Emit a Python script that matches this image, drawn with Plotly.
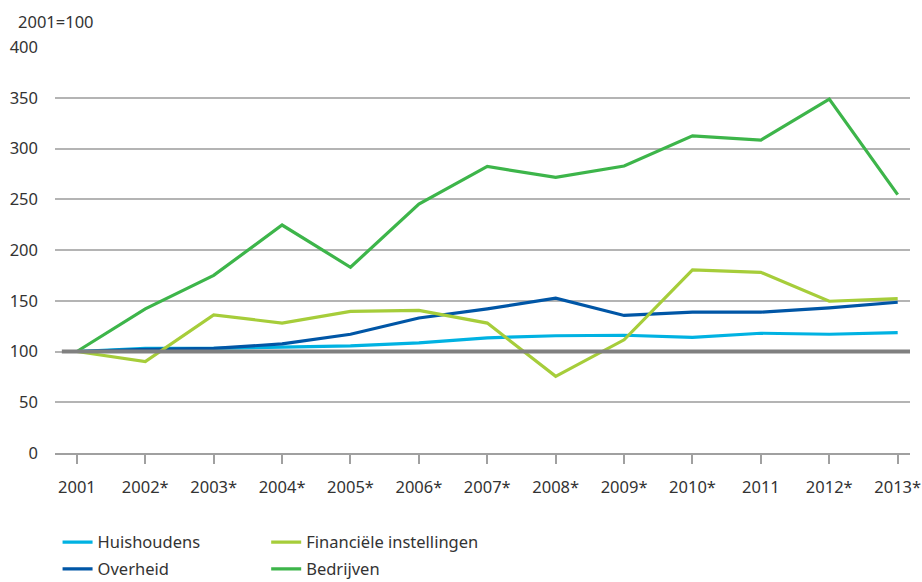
import plotly.graph_objects as go

years = ["2001", "2002*", "2003*", "2004*", "2005*", "2006*", "2007*", "2008*",
         "2009*", "2010*", "2011", "2012*", "2013*"]

huishoudens = [100, 103, 103, 104.3, 105.5, 108.5, 113.5, 115.5, 116, 114, 118, 117, 118.5]
overheid = [100, 102, 103, 107.5, 117, 133, 142, 152.5, 135.5, 138.7, 138.7, 143, 148.5]
financiele = [100, 90, 136, 128, 139.5, 140.5, 128, 75.5, 111.5, 180.5, 178, 149.5, 152]
bedrijven = [100, 142, 175, 224.6, 183, 245.3, 282.3, 271.5, 282.7, 312.5, 308.3, 348.6, 254.5]

y_ticks = [0, 50, 100, 150, 200, 250, 300, 350, 400]
baseline_value = 100
unit_label = "2001=100"

FONT = "Noto Sans"
TXT = "#333333"
FS = 16.5

fig = go.Figure()

series = [
    ("Huishoudens", huishoudens, "#00b2e2", "legend", 0.003, -0.22),
    ("Overheid", overheid, "#0056a6", "legend2", 0.003, -0.286),
    ("Financiële instellingen", financiele, "#a6cd3a", "legend3", 0.247, -0.22),
    ("Bedrijven", bedrijven, "#3db54a", "legend4", 0.247, -0.286),
]
legends = {}
for name, vals, col, lg, lx, ly in series:
    fig.add_trace(go.Scatter(
        x=years, y=vals, name=name, mode="lines",
        line=dict(color=col, width=3.2),
        legend=lg,
    ))
    legends[lg] = dict(x=lx, y=ly, xanchor="left", yanchor="middle",
                       orientation="v", font=dict(family=FONT, size=FS, color=TXT),
                       bgcolor="rgba(0,0,0,0)")

fig.add_shape(type="line", xref="paper", yref="y",
              x0=0.008, x1=1.0, y0=baseline_value, y1=baseline_value,
              line=dict(color="#808080", width=4), layer="above")

fig.add_annotation(text=unit_label, xref="paper", yref="paper",
                   x=-0.046, y=1.062, xanchor="left", yanchor="middle",
                   showarrow=False, font=dict(family=FONT, size=FS, color=TXT))

fig.update_layout(
    width=922, height=582,
    margin=dict(l=55, r=12, t=47, b=129, autoexpand=False),
    paper_bgcolor="white", plot_bgcolor="white",
    font=dict(family=FONT, size=FS, color=TXT),
    showlegend=True,
    xaxis=dict(
        type="category", range=[-0.32, 12.18], automargin=False,
        showgrid=False, showline=True, linecolor="#a0a0a0", linewidth=1.5,
        ticks="outside", ticklen=9, tickcolor="#a0a0a0", tickwidth=1.5,
        ticklabelstandoff=9, zeroline=False,
        tickfont=dict(family=FONT, size=FS, color=TXT),
    ),
    yaxis=dict(
        range=[0, 400], tickvals=y_ticks, automargin=False,
        showgrid=True, gridcolor="#b4b4b4", gridwidth=1.5,
        zeroline=False, showline=False, ticks="",
        ticklabelstandoff=16,
        tickfont=dict(family=FONT, size=FS, color=TXT),
    ),
    **legends,
)

fig.write_html(
    "out.html",
    config={"displayModeBar": False},
    post_script="document.body.style.margin='0';document.documentElement.style.overflow='hidden';",
)
